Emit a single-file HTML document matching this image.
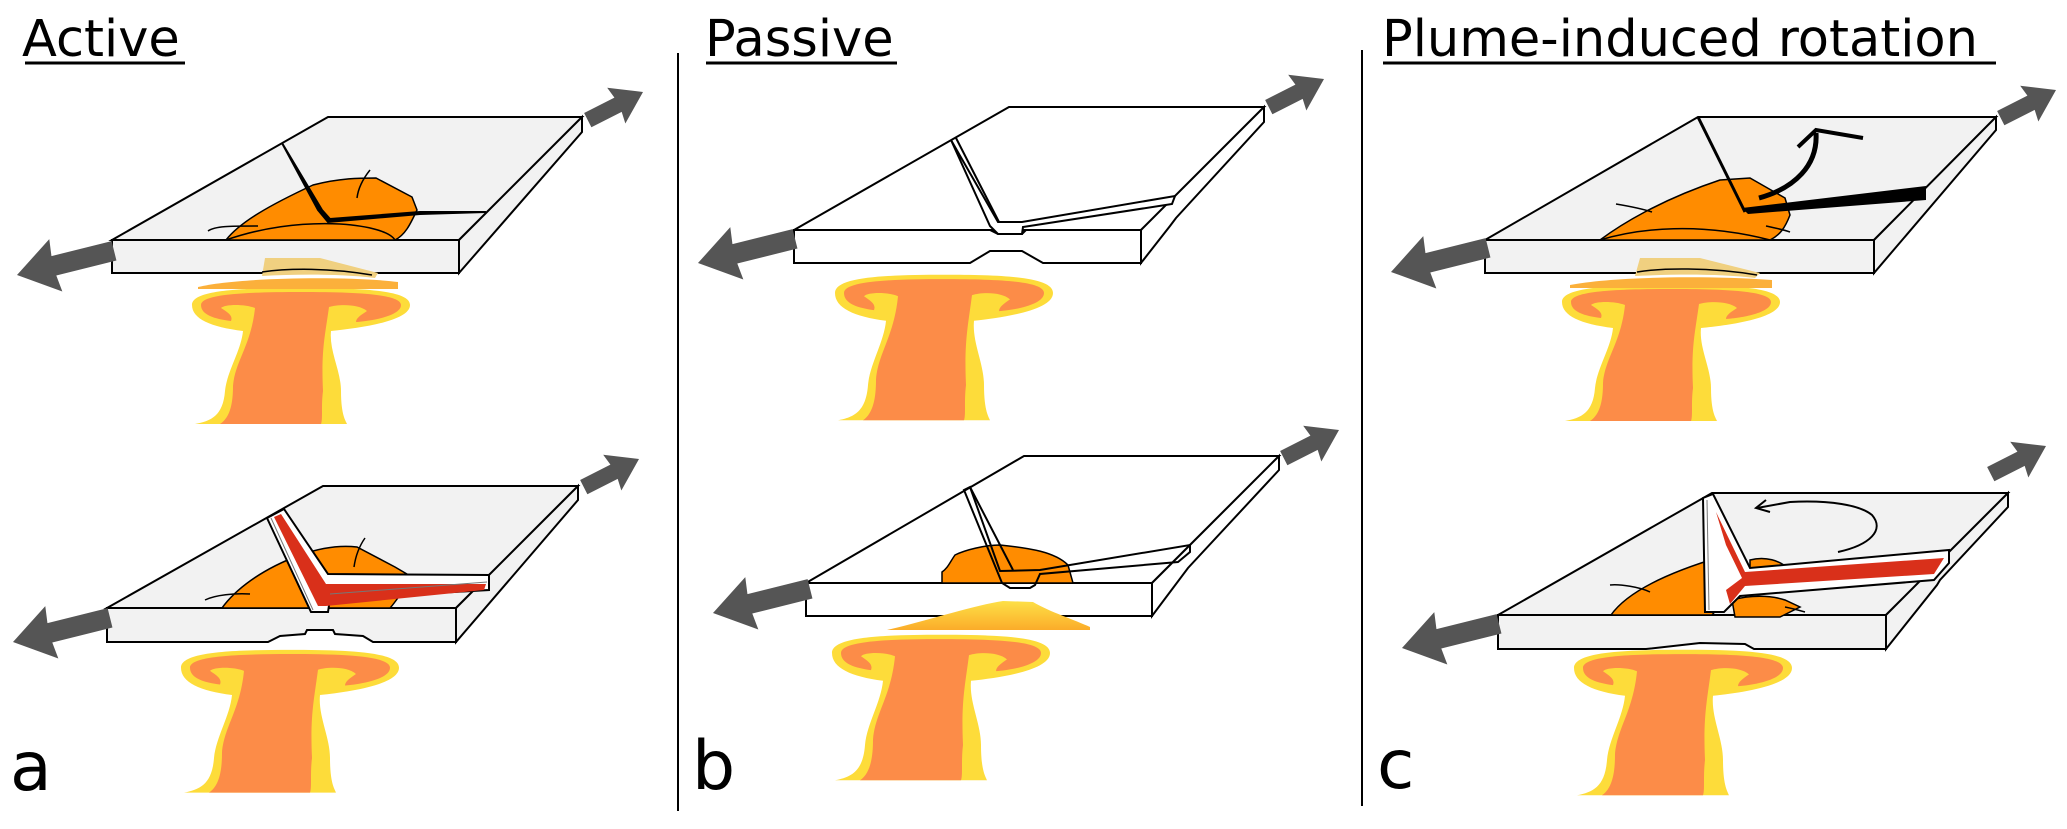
<!DOCTYPE html>
<html><head><meta charset="utf-8"><style>
html,body{margin:0;padding:0;background:#fff;}
svg{display:block;}
text{font-family:"DejaVu Sans","Liberation Sans",sans-serif;fill:#000;}
</style></head><body>
<svg width="2067" height="829" viewBox="0 0 2067 829" xmlns="http://www.w3.org/2000/svg">
<defs>
<g id="plume">
<path fill="#fddc3a" d="M -109,14 C -109,-1 -60,-3 0,-3 C 60,-3 109,-1 109,14 C 109,30 60,37 30,40 C 28,60 40,80 40,100 C 40,125 45,130 46,133 L -106,133 C -90,130 -78,125 -76,100 C -74,80 -60,60 -58,40 C -90,36 -109,28 -109,14 Z"/>
<path fill="#fc8c48" d="M -100,14 C -100,3 -55,1 0,1 C 55,1 100,3 100,14 C 100,25 70,30 55,31 C 55,27 60,24 66,20 C 58,13 38,13 28,16 C 24,45 20,60 22,100 C 20,115 22,128 20,133 L -81,133 C -70,126 -68,110 -68,95 C -66,70 -50,55 -46,17 C -56,13 -76,13 -80,17 C -72,22 -68,25 -70,30 C -86,28 -100,24 -100,14 Z"/>
</g>
<polygon id="arrBig" fill="#555" points="0,0 -40,-27 -38,-10 -100,-10 -100,10 -38,10 -40,27"/>
<polygon id="arrSm" fill="#555" points="0,0 -30,-20 -28,-8 -62,-8 -62,8 -28,8 -30,20"/>
<linearGradient id="hill" x1="0" y1="0" x2="0" y2="1"><stop offset="0" stop-color="#fde047"/><stop offset="1" stop-color="#fbac2a"/></linearGradient>
</defs>

<text x="22" y="56" font-size="51">Active</text>
<line x1="25" y1="63" x2="185" y2="63" stroke="#000" stroke-width="3"/>
<text x="705" y="56" font-size="51">Passive</text>
<line x1="706" y1="63" x2="897" y2="63" stroke="#000" stroke-width="3"/>
<text x="1382" y="56" font-size="51">Plume-induced rotation</text>
<line x1="1383" y1="63" x2="1996" y2="63" stroke="#000" stroke-width="3"/>

<line x1="678" y1="53" x2="678" y2="811" stroke="#000" stroke-width="2"/>
<line x1="1362" y1="50" x2="1362" y2="806" stroke="#000" stroke-width="2"/>

<text x="10" y="790" font-size="68">a</text>
<text x="692" y="789" font-size="68">b</text>
<text x="1377" y="788" font-size="68">c</text>

<!-- PANEL A TOP -->
<use href="#plume" transform="translate(301,291)"/>
<g stroke="#000" stroke-width="2" stroke-linejoin="miter">
<polygon points="112,240 459,240 582,117 328,117" fill="#f2f2f2"/>
<polygon points="112,240 459,240 459,273 112,273" fill="#f2f2f2"/>
<polygon points="459,240 582,117 582,132 459,273" fill="#f2f2f2"/>
</g>
<path d="M198,287 C240,277 350,276 398,282 L398,289 L198,289 Z" fill="#fbb03b"/>
<path d="M265,258 L320,258 L378,273 L375,278 C340,274 300,274 262,276 Z" fill="#f0d080"/>
<path d="M262,272 C290,268 330,268 372,275" fill="none" stroke="#000" stroke-width="1.5"/>
<path d="M226,240 C240,222 270,205 313,185 C340,178 360,178 376,178 L412,197 L417,210 C410,225 405,235 395,240 Z" fill="#ff8c00" stroke="#000" stroke-width="1.5"/>
<path d="M226,240 C260,228 300,222 340,224 C370,226 390,232 395,240" fill="none" stroke="#000" stroke-width="1.5"/>
<path d="M282,143 L318,210 L328,222 L420,214 L486,212 L420,212 L330,219 L322,210 Z" fill="#000" stroke="#000" stroke-width="2"/>
<path d="M208,231 C215,226 230,226 258,226" fill="none" stroke="#000" stroke-width="1.5"/>
<path d="M370,170 C362,180 358,190 357,198" fill="none" stroke="#000" stroke-width="1.5"/>
<use href="#arrBig" transform="translate(17,275) rotate(166)"/>
<use href="#arrSm" transform="translate(643,92) rotate(-27)"/>

<!-- PANEL A BOTTOM -->
<use href="#plume" transform="translate(290,653) scale(1,1.05)"/>
<g stroke="#000" stroke-width="2" stroke-linejoin="miter">
<polygon points="107,608 456,608 578,486 323,486" fill="#f2f2f2"/>
<path d="M107,608 L456,608 L456,642 L373,642 L363,636 L335,634 L333,630 L307,630 L305,634 L280,636 L268,642 L107,642 Z" fill="#f2f2f2"/>
<polygon points="456,608 578,486 578,500 456,642" fill="#f2f2f2"/>
</g>
<path d="M222,608 C235,590 260,570 300,555 C320,548 340,545 357,547 L395,567 L412,577 L400,595 C395,602 392,606 390,608 Z" fill="#ff8c00" stroke="#000" stroke-width="1.5"/>
<path d="M205,600 C215,595 235,593 250,594" fill="none" stroke="#000" stroke-width="1.5"/>
<path d="M365,538 C358,548 355,560 354,567" fill="none" stroke="#000" stroke-width="1.5"/>
<polygon points="267,518 284,509 328,574 489,575 489,590 330,599 328,612 311,612" fill="#fff" stroke="#000" stroke-width="2"/>
<polygon points="274,517 281,514 326,584 486,584 484,590 326,606 318,606" fill="#d9301a"/>
<line x1="271" y1="518" x2="313" y2="610" stroke="#777" stroke-width="1"/>
<line x1="330" y1="594" x2="487" y2="582" stroke="#777" stroke-width="1"/>
<use href="#arrBig" transform="translate(13,642) rotate(166)"/>
<use href="#arrSm" transform="translate(639,459) rotate(-27)"/>

<!-- PANEL B TOP -->
<use href="#plume" transform="translate(944,278) scale(1,1.07)"/>
<g stroke="#000" stroke-width="2" fill="#fff" stroke-linejoin="miter">
<polygon points="794,230 1141,230 1264,107 1009,107"/>
<path d="M794,230 L990,230 L998,234 L1022,234 L1026,230 L1141,230 L1141,263 L1043,263 L1022,251 L990,251 L970,263 L794,263 Z"/>
<polygon points="1141,230 1264,107 1264,122 1176,218 1170,226 1141,263"/>
<path d="M951,140 L998,222 L1022,222 L1175,196 L1172,204 L1023,227 L1022,234 L998,234 L990,226 Z"/>
</g>
<line x1="956" y1="138" x2="999" y2="222" stroke="#000" stroke-width="2"/>
<use href="#arrBig" transform="translate(698,263) rotate(166)"/>
<use href="#arrSm" transform="translate(1324,79) rotate(-27)"/>

<!-- PANEL B BOTTOM -->
<use href="#plume" transform="translate(941,638) scale(1,1.07)"/>
<g stroke="#000" stroke-width="2" fill="#fff" stroke-linejoin="miter">
<polygon points="806,583 1152,583 1279,456 1024,456"/>
<polygon points="806,583 1152,583 1152,616 806,616"/>
<polygon points="1152,583 1279,456 1279,470 1188,568 1152,616"/>
</g>
<path d="M887,630 C930,620 975,605 1003,601 L1033,602 C1050,612 1075,620 1090,627 L1090,630 Z" fill="url(#hill)"/>
<path d="M942,583 L942,572 C948,568 950,562 955,555 C965,550 985,545 1000,545 C1030,548 1055,552 1068,565 L1073,583 Z" fill="#ff8c00" stroke="#000" stroke-width="1.5"/>
<g stroke="#000" stroke-width="2" fill="none">
<path d="M964,490 L970,487 L1000,571 L1040,570 L1190,545 L1190,552 L1178,562 L1040,574 L1035,585 L1030,588 L1010,588 L1002,583 Z"/>
<line x1="970" y1="487" x2="1013" y2="570"/>
</g>
<use href="#arrBig" transform="translate(713,613) rotate(166)"/>
<use href="#arrSm" transform="translate(1339,430) rotate(-27)"/>

<!-- PANEL C TOP -->
<use href="#plume" transform="translate(1671,288)"/>
<g stroke="#000" stroke-width="2" stroke-linejoin="miter" fill="#f2f2f2">
<polygon points="1485,240 1874,240 1996,117 1698,117"/>
<polygon points="1485,240 1874,240 1874,273 1485,273"/>
<polygon points="1874,240 1996,117 1996,130 1874,273"/>
</g>
<path d="M1570,285 C1610,277 1700,275 1772,280 L1772,288 L1570,288 Z" fill="#fbb03b"/>
<path d="M1640,258 L1700,258 L1760,273 L1755,278 C1720,274 1680,274 1635,276 Z" fill="#f0d080"/>
<path d="M1637,272 C1660,268 1710,267 1757,275" fill="none" stroke="#000" stroke-width="1.5"/>
<path d="M1600,240 C1620,225 1660,200 1720,180 L1750,178 L1785,198 L1790,215 C1785,228 1780,235 1770,240 Z" fill="#ff8c00" stroke="#000" stroke-width="1.5"/>
<path d="M1600,240 C1640,228 1700,222 1770,240" fill="none" stroke="#000" stroke-width="1.5"/>
<path d="M1616,204 C1628,206 1640,208 1652,212 M1766,226 C1775,228 1785,230 1790,232" fill="none" stroke="#000" stroke-width="1.5"/>
<path d="M1698,117 L1745,212" stroke="#000" stroke-width="3" fill="none"/>
<polygon points="1742,208 1926,186 1926,200 1748,214" fill="#000"/>
<path d="M1759,198 C1795,188 1818,165 1816,133" fill="none" stroke="#000" stroke-width="5"/>
<path d="M1798,147 L1816,130 L1863,138" fill="none" stroke="#000" stroke-width="4"/>
<use href="#arrBig" transform="translate(1391,272) rotate(166)"/>
<use href="#arrSm" transform="translate(2056,90) rotate(-27)"/>

<!-- PANEL C BOTTOM -->
<use href="#plume" transform="translate(1683,653) scale(1,1.07)"/>
<g stroke="#000" stroke-width="2" stroke-linejoin="miter" fill="#f2f2f2">
<polygon points="1498,615 1886,615 2008,493 1712,493"/>
<path d="M1498,615 L1886,615 L1886,649 L1754,649 L1745,644 L1700,643 L1646,649 L1498,649 Z"/>
<polygon points="1886,615 2008,493 2008,507 1940,580 1937,585 1886,649"/>
</g>
<path d="M1611,615 C1625,595 1660,575 1720,557 L1725,600 L1712,615 Z" fill="#ff8c00" stroke="#000" stroke-width="1.5"/>
<path d="M1732,600 C1750,595 1770,595 1785,600 L1800,607 L1780,617 L1735,617 Z" fill="#ff8c00" stroke="#000" stroke-width="1.5"/>
<path d="M1750,560 C1765,556 1780,560 1790,570 L1750,575 Z" fill="#ff8c00" stroke="#000" stroke-width="1.5"/>
<path d="M1610,585 C1620,584 1640,587 1650,592 M1785,607 C1790,608 1798,610 1805,612" fill="none" stroke="#000" stroke-width="1.5"/>
<polygon points="1703,498 1713,494 1750,568 1949,550 1949,563 1934,580 1740,596 1724,612 1705,612" fill="#fff" stroke="#000" stroke-width="2"/>
<polygon points="1716,512 1745,572 1944,558 1934,574 1745,586 1730,604 1726,590 1742,578 1726,545" fill="#d9301a"/>
<line x1="1707" y1="500" x2="1709" y2="610" stroke="#777" stroke-width="1"/>
<path d="M1838,552 C1870,545 1885,530 1872,515 C1860,505 1830,500 1790,502 L1757,508" fill="none" stroke="#000" stroke-width="2"/>
<path d="M1766,500 L1756,508 L1770,512" fill="none" stroke="#000" stroke-width="2"/>
<use href="#arrBig" transform="translate(1402,648) rotate(166)"/>
<use href="#arrSm" transform="translate(2046,446) rotate(-27)"/>
</svg>
</body></html>
